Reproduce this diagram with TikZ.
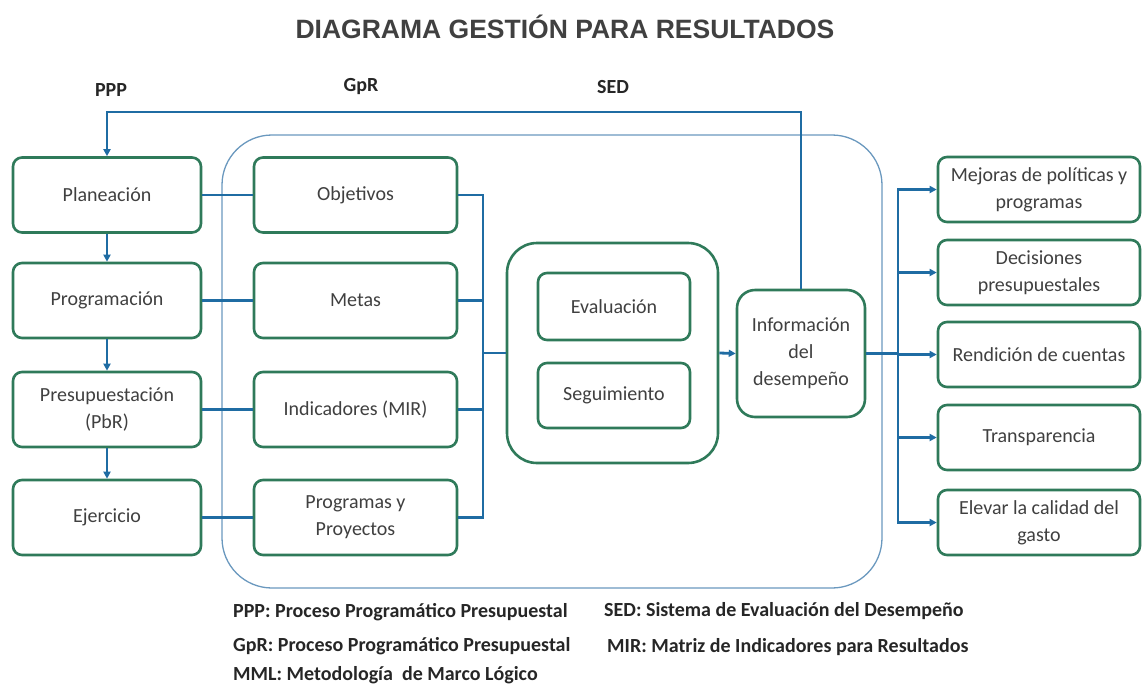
\documentclass[tikz,border=0pt]{standalone}
\usepackage{fontspec}
\setmainfont{Carlito}
\newfontfamily\titlefont{Liberation Sans}
\usetikzlibrary{arrows.meta}
\definecolor{boxgreen}{HTML}{2F7A5A}
\definecolor{linkblue}{HTML}{1F6CA3}
\definecolor{contblue}{HTML}{6A98BE}
\definecolor{textgray}{HTML}{404040}
\definecolor{labgray}{HTML}{262626}
\tikzset{
  box/.style={draw=boxgreen, line width=2.6pt, rounded corners=9pt, fill=white, align=center,
    font=\fontsize{20}{27}\selectfont, text=textgray, inner sep=0pt},
  lbox/.style={box, minimum width=188pt, minimum height=75pt},
  mbox/.style={box, minimum width=203pt, minimum height=75pt},
  rbox/.style={box, minimum width=202pt, minimum height=65pt},
  link/.style={draw=linkblue, line width=2.8pt},
  arr/.style={link, -{Triangle[length=7pt,width=7pt]}},
  lab/.style={font=\bfseries\fontsize{20}{24}\selectfont, text=labgray},
  leg/.style={font=\bfseries\fontsize{20}{24}\selectfont, text=labgray, anchor=west, inner sep=0pt}
}
\begin{document}
\begin{tikzpicture}[x=1pt,y=-1pt]
\useasboundingbox (0,0) rectangle (1144,686);
% title
\node[font=\titlefont\bfseries\fontsize{26.5}{30}\selectfont, text=textgray] (title) at (565,27) {DIAGRAMA GESTIÓN PARA RESULTADOS};
% labels
\node[lab] (lppp) at (111,90) {PPP};
\node[lab] (lgpr) at (361,87) {GpR};
\node[lab] (lsed) at (613,87) {SED};
% container
\draw[contblue, line width=1.3pt, rounded corners=50pt] (222,135) rectangle (882,588);
% left column
\node[lbox] (plan) at (107,195) {Planeación};
\node[lbox] (prog) at (107,300.5) {Programación};
\node[lbox] (pres) at (107,409.5) {Presupuestación\\(PbR)};
\node[lbox] (ejer) at (107,517.5) {Ejercicio};
% middle column
\node[mbox] (obj) at (355.5,195) {Objetivos};
\node[mbox] (met) at (355.5,300.5) {Metas};
\node[mbox] (ind) at (355.5,409.5) {Indicadores (MIR)};
\node[mbox] (pyp) at (355.5,517.5) {Programas y\\Proyectos};
% evaluation block
\node[box, rounded corners=30pt, minimum width=211pt, minimum height=220pt] (evo) at (612.5,353) {};
\node[box, minimum width=152pt, minimum height=67pt] (eva) at (614,306.5) {Evaluación};
\node[box, minimum width=152pt, minimum height=65pt] (seg) at (614,395.5) {Seguimiento};
\node[box, rounded corners=18pt, minimum width=128pt, minimum height=127pt] (info) at (801,353.5) {Información\\del\\desempeño};
% right column
\node[rbox] (mej) at (1039,189.5) {Mejoras de políticas y\\programas};
\node[rbox] (dec) at (1039,272.5) {Decisiones\\presupuestales};
\node[rbox] (ren) at (1039,354.5) {Rendición de cuentas};
\node[rbox] (tra) at (1039,437.5) {Transparencia};
\node[rbox] (ele) at (1039,522.5) {Elevar la calidad del\\gasto};
% left column arrows
\draw[arr] (plan.south) -- (prog.north);
\draw[arr] (prog.south) -- (pres.north);
\draw[arr] (pres.south) -- (ejer.north);
% left to middle
\draw[link] (plan.east) -- (obj.west);
\draw[link] (prog.east) -- (met.west);
\draw[link] (pres.east) -- (ind.west);
\draw[link] (ejer.east) -- (pyp.west);
% middle bus
\coordinate (busL) at (483,353);
\draw[link] (obj.east) -| (busL);
\draw[link] (met.east) -| (busL);
\draw[link] (ind.east) -| (busL);
\draw[link] (pyp.east) -| (busL);
\draw[link] (busL) -- (evo.west);
\draw[arr] (evo.east) -- (info.west);
% feedback
\coordinate (top) at (801,112);
\draw[arr, line width=2.4pt] (info.north) -- (top) -| (plan.north);
% right bus
\coordinate (busR) at (898,353.5);
\draw[link] (info.east) -- (busR);
\draw[arr] (busR) |- (mej.west);
\draw[arr] (busR) |- (dec.west);
\draw[arr] (busR) |- (ren.west);
\draw[arr] (busR) |- (tra.west);
\draw[arr] (busR) |- (ele.west);
% legend
\node[leg] (g1) at (233,612) {PPP: Proceso Programático Presupuestal};
\node[leg] (g2) at (233,646) {GpR: Proceso Programático Presupuestal};
\node[leg] (g3) at (233,675) {MML: Metodología \ de Marco Lógico};
\node[leg] (g4) at (604,611) {SED: Sistema de Evaluación del Desempeño};
\node[leg] (g5) at (607,647) {MIR: Matriz de Indicadores para Resultados};
\end{tikzpicture}
\end{document}
